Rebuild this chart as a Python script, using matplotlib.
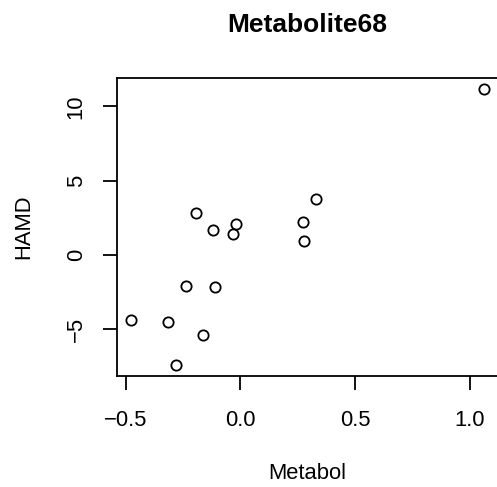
import matplotlib
matplotlib.use('Agg')
import matplotlib.pyplot as plt

# values
metabol = [1.062, -0.477, -0.317, -0.279, -0.237, -0.195, -0.163,
           -0.119, -0.110, -0.032, -0.017, 0.273, 0.278, 0.332]
hamd = [11.18, -4.35, -4.51, -7.39, -2.11, 2.80, -5.36,
        1.65, -2.15, 1.39, 2.10, 2.24, 0.96, 3.76]
x_ticks = [-0.5, 0.0, 0.5, 1.0]
x_tick_labels = ['\u22120.5', '0.0', '0.5', '1.0']
y_ticks = [-5, 0, 5, 10]
y_tick_labels = ['\u22125', '0', '5', '10']

plt.rcParams['font.family'] = ['Liberation Sans', 'DejaVu Sans']

W, H = 497, 487
fig = plt.figure(figsize=(W / 100, H / 100), dpi=100)
ax = fig.add_axes([116.7 / W, 1 - 376 / H, 0.7672, (376 - 77.7) / H])
ax.spines['right'].set_visible(False)  # falls just outside the image in the reference

ax.plot(metabol, hamd, 'o', mfc='none', mec='black', ms=7.4, mew=1.3)
ax.margins(x=0.04, y=0.04)

ax.set_xticks(x_ticks)
ax.set_xticklabels(x_tick_labels)
ax.set_yticks(y_ticks)
ax.set_yticklabels(y_tick_labels, rotation=90, va='center')
ax.tick_params(axis='both', length=10, width=1.3, labelsize=15.8)
ax.tick_params(axis='x', pad=14.5)
ax.tick_params(axis='y', pad=11.5)
for sp in ax.spines.values():
    sp.set_linewidth(1.3)

fig.text(307 / W, 1 - 32 / H, 'Metabolite68', ha='center', va='baseline',
         fontsize=19, fontweight='bold')
fig.text(307 / W, 1 - 479 / H, 'Metabol', ha='center', va='baseline',
         fontsize=15.8)
fig.text(23.3 / W, 1 - 226.5 / H, 'HAMD', ha='center', va='center',
         rotation=90, fontsize=15.8)

fig.savefig('out.png', dpi=100)
